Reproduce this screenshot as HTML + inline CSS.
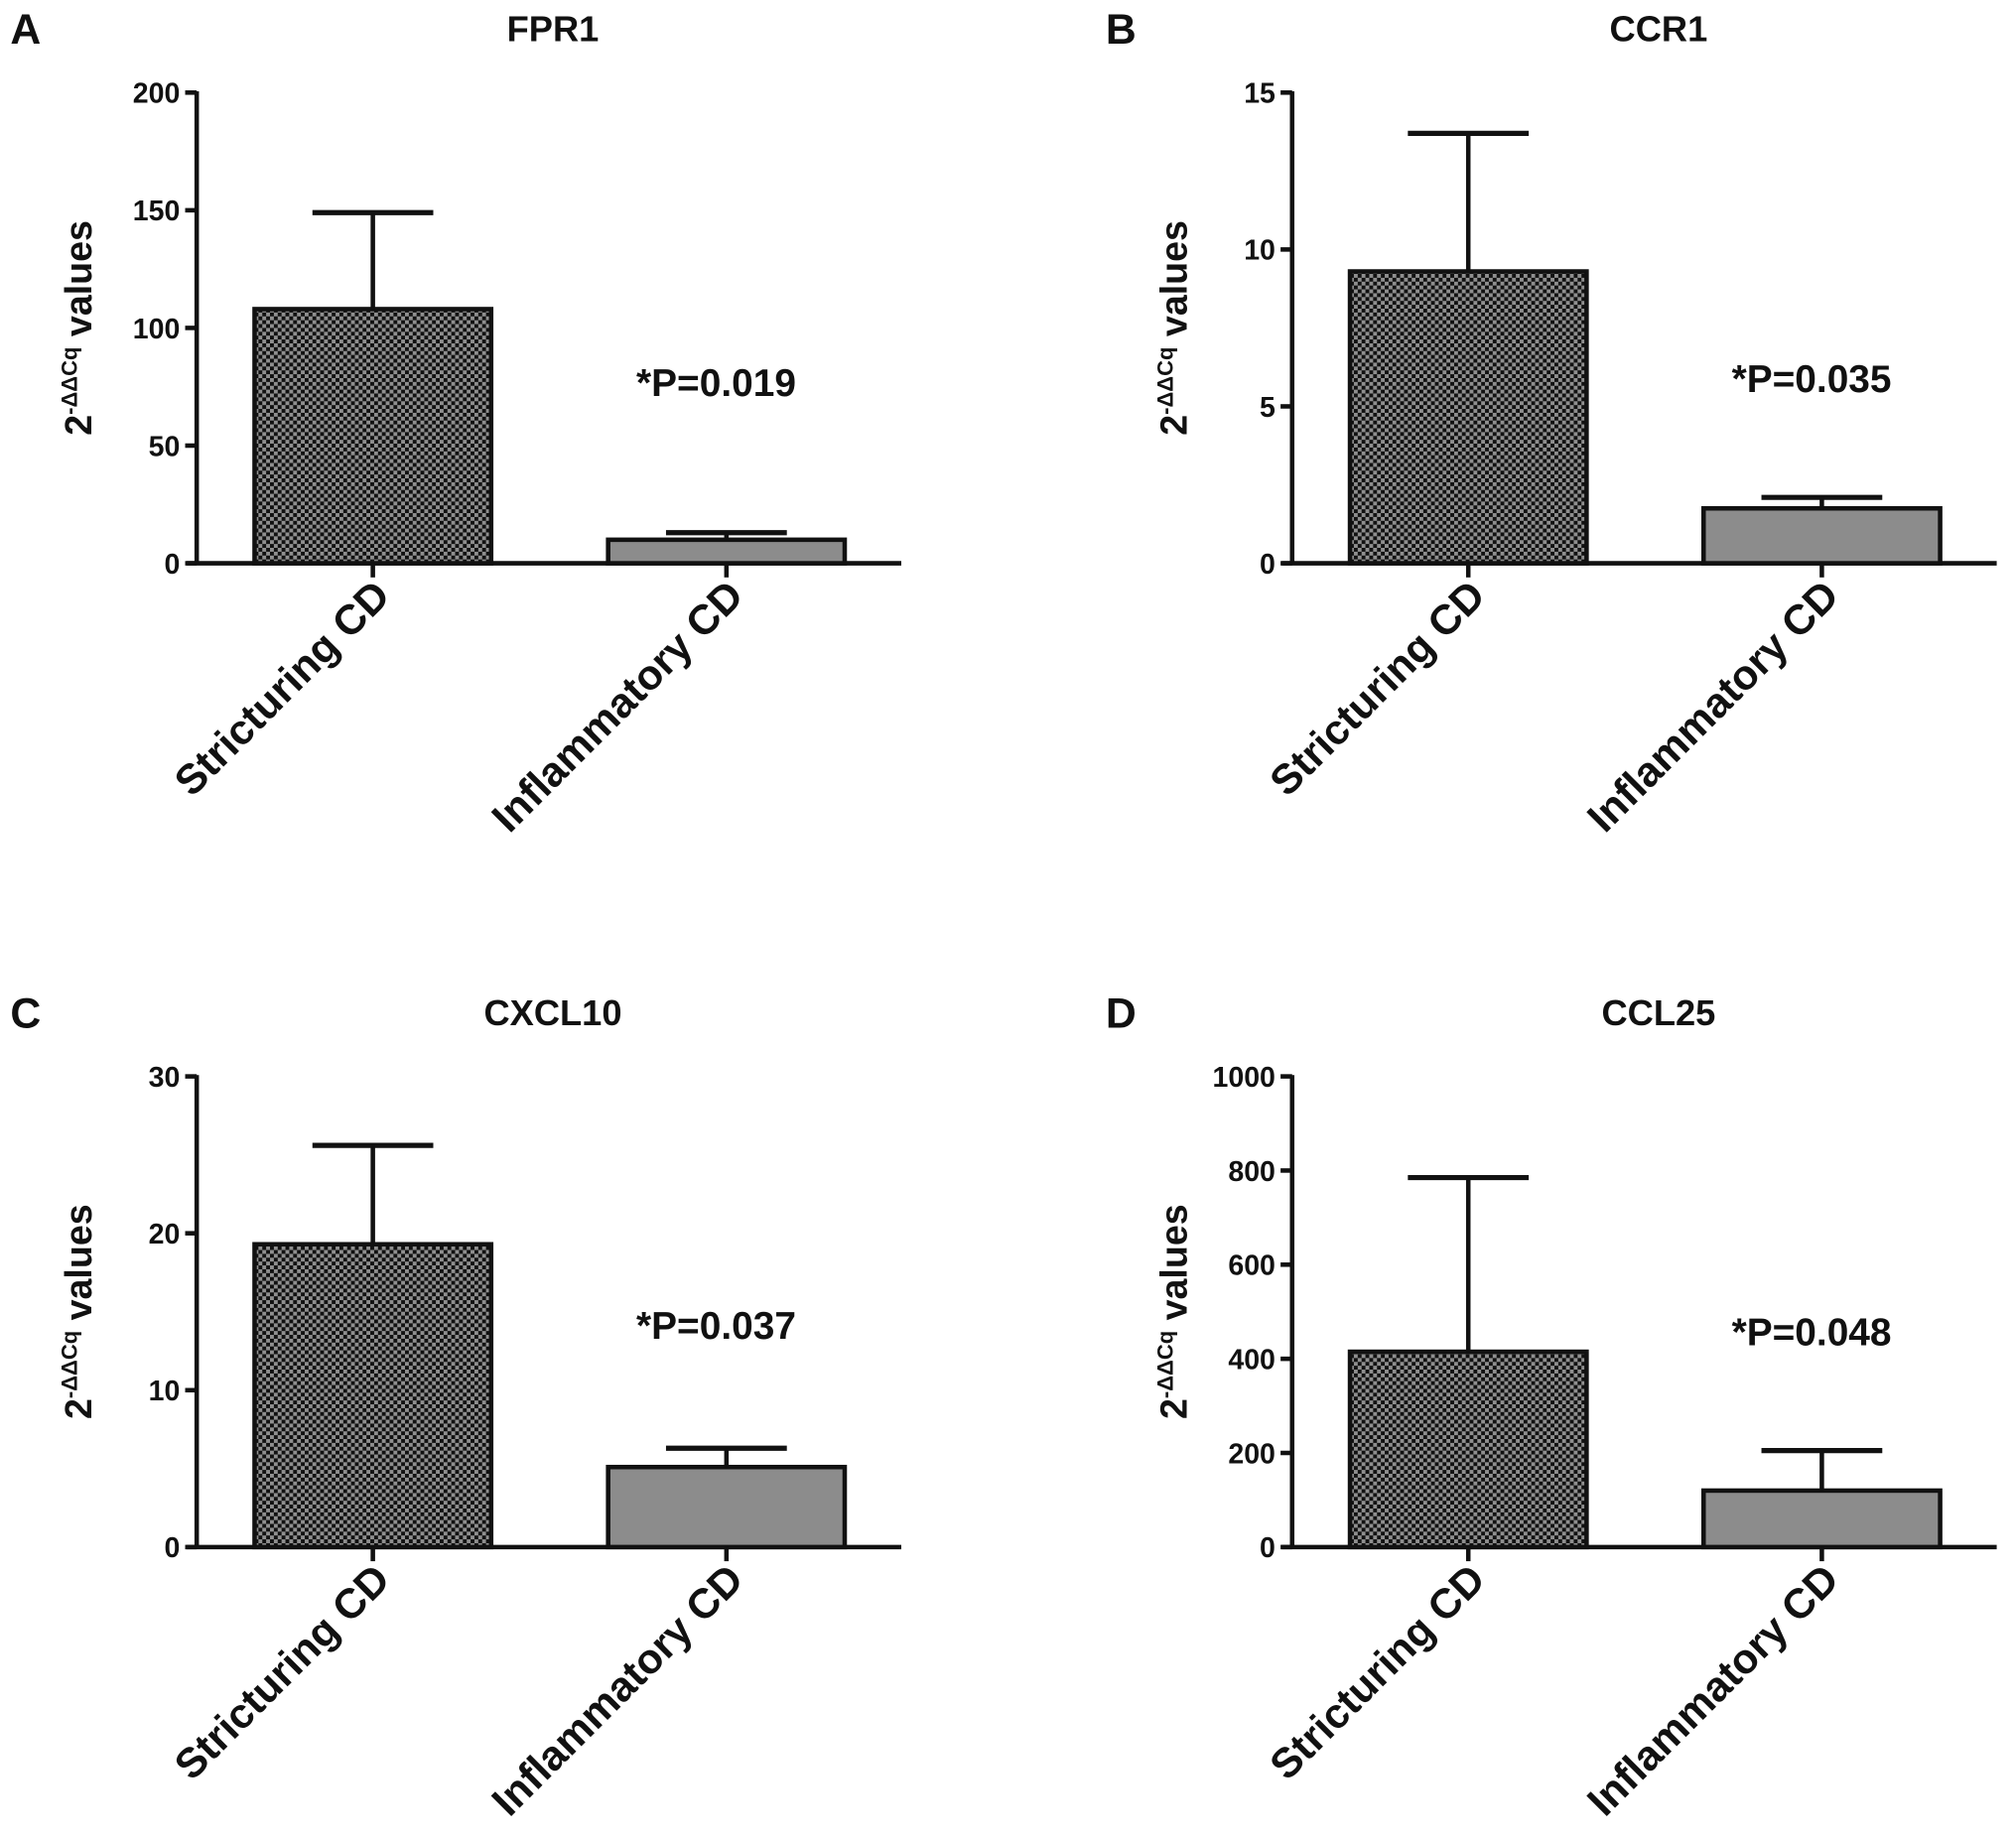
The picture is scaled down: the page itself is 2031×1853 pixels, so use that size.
<!DOCTYPE html>
<html><head><meta charset="utf-8">
<style>
html,body{margin:0;padding:0;background:#fff;}
svg{display:block;}
text{font-family:"Liberation Sans",Arial,sans-serif;font-weight:bold;fill:#111;}
</style></head>
<body>
<svg id="fig" width="2031" height="1853" viewBox="0 0 1568 1430" preserveAspectRatio="none" xmlns="http://www.w3.org/2000/svg">
<defs>
<pattern id="checker" width="6" height="6" patternUnits="userSpaceOnUse">
<rect width="6" height="6" fill="#111"/>
<rect x="0" y="0" width="3" height="3" fill="#8f8f8f"/>
<rect x="3" y="3" width="3" height="3" fill="#8f8f8f"/>
</pattern>
</defs>
</svg>
<script>
const panelLetters = ["A","B","C","D"];
const panelTitles = ["FPR1","CCR1","CXCL10","CCL25"];
const categories = ["Stricturing CD","Inflammatory CD"];
const yMaxes = [200,15,30,1000];
const tickLabels = [[0,50,100,150,200],[0,5,10,15],[0,10,20,30],[0,200,400,600,800,1000]];
const meanStricturing = [108,9.3,19.3,415];
const errStricturing = [149,13.7,25.6,785];
const meanInflammatory = [10,1.75,5.1,120];
const errInflammatory = [13,2.1,6.3,205];
const pLabels = ["*P=0.019","*P=0.035","*P=0.037","*P=0.048"];

const NS="http://www.w3.org/2000/svg";
const svg=document.getElementById('fig');
function mk(tag,attrs,parent){const e=document.createElementNS(NS,tag);for(const k in attrs)e.setAttribute(k,attrs[k]);(parent||svg).appendChild(e);return e;}

const origins=[[153,438],[1005,438],[153,1203],[1005,1203]];
const titleX=[430,1290,430,1290];
const pRise=[130,133,162,157];
const SW=3.5;
for(let p=0;p<4;p++){
  const [ox,oy]=origins[p];
  const top=oy-366;
  const g=mk('g',{});
  
  
  const y=v=>oy-(v/yMaxes[p])*366;
  const lt=mk('text',{x:ox-145,y:top-38,'font-size':33},g);lt.textContent=panelLetters[p];
  
  
  const tt=mk('text',{x:titleX[p],y:top-40,'font-size':28,'text-anchor':'middle'},g);tt.textContent=panelTitles[p];
  
  
  const ya=mk('line',{x1:ox,y1:top-1,x2:ox,y2:oy,stroke:'#111','stroke-width':SW},g);
  
  
  const xa=mk('line',{x1:ox-8,y1:oy,x2:ox+548,y2:oy,stroke:'#111','stroke-width':SW},g);
  
  
  tickLabels[p].forEach(v=>{
    mk('line',{x1:ox-9,y1:y(v),x2:ox,y2:y(v),stroke:'#111','stroke-width':SW},g);
    const t=mk('text',{x:ox-13,y:y(v)+8,'font-size':22,'text-anchor':'end'},g);t.textContent=v;
    
    
  });
  const yt=mk('text',{transform:`translate(${ox-82},${(top+oy)/2}) rotate(-90)`,'font-size':29,'text-anchor':'middle'},g);
  
  
  const a=mk('tspan',{},yt);a.textContent='2';
  const b=mk('tspan',{dy:-11,'font-size':17},yt);b.textContent='-ΔΔCq';
  const c=mk('tspan',{dy:11},yt);c.textContent=' values';
  const centers=[ox+137,ox+412];
  const means=[meanStricturing[p],meanInflammatory[p]];
  const errs=[errStricturing[p],errInflammatory[p]];
  for(let i=0;i<2;i++){
    const cx=centers[i];
    const el=mk('line',{x1:cx,y1:y(errs[i]),x2:cx,y2:y(means[i]),stroke:'#111','stroke-width':SW},g);
    
    
    const cap=mk('line',{x1:cx-47,y1:y(errs[i]),x2:cx+47,y2:y(errs[i]),stroke:'#111','stroke-width':SW+0.5},g);
    
    
    const r=mk('rect',{x:cx-92,y:y(means[i]),width:184,height:oy-y(means[i]),fill:i===0?'url(#checker)':'#8c8c8c',stroke:'#111','stroke-width':SW},g);
    
    
    mk('line',{x1:cx,y1:oy,x2:cx,y2:oy+11,stroke:'#111','stroke-width':SW},g);
    const cl=mk('text',{transform:`translate(${cx+15},${oy+27}) rotate(-45)`,'font-size':32.5,'text-anchor':'end'},g);
    cl.textContent=categories[i];
    
    
  }
  const pt=mk('text',{x:ox+404,y:oy-pRise[p],'font-size':30,'text-anchor':'middle'},g);
  pt.textContent=pLabels[p];
  
  
}
</script>
</body></html>
